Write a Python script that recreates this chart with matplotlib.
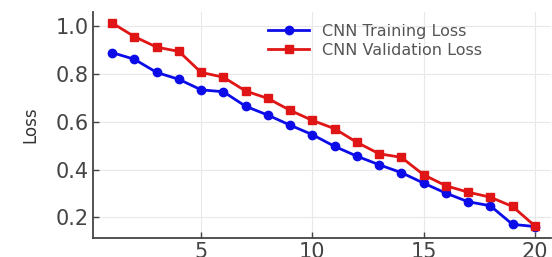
import matplotlib
matplotlib.use("Agg")
import matplotlib.pyplot as plt

epochs = list(range(1, 21))
train_loss = [0.89, 0.862, 0.807, 0.778, 0.734, 0.726, 0.665, 0.628, 0.586, 0.546,
              0.497, 0.456, 0.420, 0.387, 0.343, 0.301, 0.265, 0.248, 0.170, 0.161]
val_loss = [1.014, 0.957, 0.913, 0.895, 0.807, 0.787, 0.729, 0.698, 0.648, 0.606,
            0.571, 0.514, 0.466, 0.451, 0.378, 0.332, 0.305, 0.284, 0.245, 0.164]

fig = plt.figure(figsize=(5.52, 2.57), dpi=100)
ax = fig.add_axes([0.169, 0.075, 0.83, 0.878])

ax.plot(epochs, train_loss, color='#0c0ce8', marker='o', markersize=6, linewidth=2,
        label='CNN Training Loss')
ax.plot(epochs, val_loss, color='#e01515', marker='s', markersize=6, linewidth=2,
        label='CNN Validation Loss')

ax.set_xlim(0.15, 20.75)
ax.set_ylim(0.114, 1.06)
ax.set_xticks([5, 10, 15, 20])
ax.set_yticks([0.2, 0.4, 0.6, 0.8, 1.0])
ax.set_ylabel('Loss', fontsize=12, color='#333333', labelpad=12)

ax.grid(True, color='#e8e8e8', linewidth=0.8)
ax.set_axisbelow(True)
for side in ['top', 'right']:
    ax.spines[side].set_visible(False)
for side in ['left', 'bottom']:
    ax.spines[side].set_color('#444444')
    ax.spines[side].set_linewidth(1.3)
ax.tick_params(direction='in', length=4, width=1, colors='#444444',
               labelsize=15, labelcolor='#444444', pad=3)

ax.legend(loc='upper left', bbox_to_anchor=(0.36, 0.99), frameon=False,
          fontsize=11.5, labelcolor='#555555', handlelength=2.6, borderaxespad=0.2,
          labelspacing=0.25, handletextpad=0.8)

fig.savefig('out.png', dpi=100)
